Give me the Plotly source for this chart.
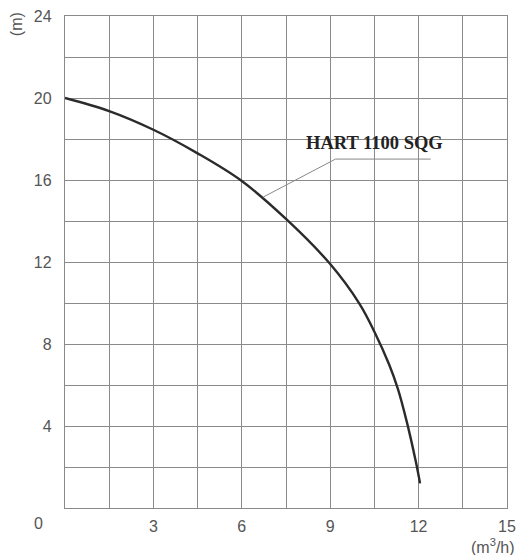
import plotly.graph_objects as go

flow = [0, 1.5, 3, 4.5, 6, 7.5, 9, 10, 10.5, 11, 11.3, 11.6, 11.9, 12.05]
head = [20, 19.36, 18.45, 17.3, 15.95, 14.1, 11.9, 9.95, 8.6, 7.0, 5.8, 4.2, 2.3, 1.2]
series_name = "HART 1100 SQG"
x_ticks = [3, 6, 9, 12, 15]
y_ticks = [4, 8, 12, 16, 20, 24]

fig = go.Figure()
fig.add_trace(go.Scatter(x=flow, y=head, mode="lines", name=series_name,
                         line=dict(color="#2b2b2b", width=2.4, shape="spline", smoothing=1.0),
                         showlegend=False, hoverinfo="skip"))

grid_col = "#8a8a8a"
tick_font = dict(family="Liberation Sans, Arial", size=16, color="#555")
fig.update_xaxes(range=[0, 15], tickvals=x_ticks, showgrid=True, gridcolor=grid_col, gridwidth=1.3,
                 minor=dict(tick0=0, dtick=1.5, showgrid=True, gridcolor=grid_col, gridwidth=1.3),
                 zeroline=False, showline=True, linecolor=grid_col, linewidth=1.3, mirror=True,
                 tickfont=tick_font, ticks="", ticklabelstandoff=4, automargin=False)
fig.update_yaxes(range=[0, 24], tickvals=y_ticks, showgrid=True, gridcolor=grid_col, gridwidth=1.3,
                 minor=dict(tick0=0, dtick=2, showgrid=True, gridcolor=grid_col, gridwidth=1.3),
                 zeroline=False, showline=True, linecolor=grid_col, linewidth=1.3, mirror=True,
                 tickfont=tick_font, ticks="", ticklabelstandoff=9, automargin=False)

# leader line for the label
fig.add_shape(type="line", x0=6.73, y0=15.17, x1=9.18, y1=17.02, line=dict(color="#888", width=1))
fig.add_shape(type="line", x0=9.18, y0=17.02, x1=12.41, y1=17.02, line=dict(color="#888", width=1))

fig.add_annotation(x=10.52, y=17.82, text="<b>" + series_name + "</b>", showarrow=False,
                   font=dict(family="Liberation Serif, Times New Roman", size=18.5, color="#222"))
fig.add_annotation(xref="x domain", yref="y domain", x=-0.06, y=-0.032, xanchor="center",
                   yanchor="middle", text="0", showarrow=False, font=tick_font)
fig.add_annotation(xref="paper", yref="paper", x=1.022, y=-0.052, xanchor="right", yanchor="top",
                   text="(m<sup>3</sup>/h)", showarrow=False,
                   font=dict(family="Liberation Sans, Arial", size=16, color="#555"))
fig.add_annotation(xref="paper", yref="paper", x=-0.108, y=0.984, xanchor="center", yanchor="middle",
                   text="(m)", textangle=-90, showarrow=False,
                   font=dict(family="Liberation Sans, Arial", size=16, color="#555"))

fig.update_layout(width=517, height=555, margin=dict(l=65, r=10, t=16, b=47),
                  plot_bgcolor="white", paper_bgcolor="white")
fig.write_html("out.html", config={"displayModeBar": False},
               post_script="document.body.style.margin='0';document.body.style.overflow='hidden';")
